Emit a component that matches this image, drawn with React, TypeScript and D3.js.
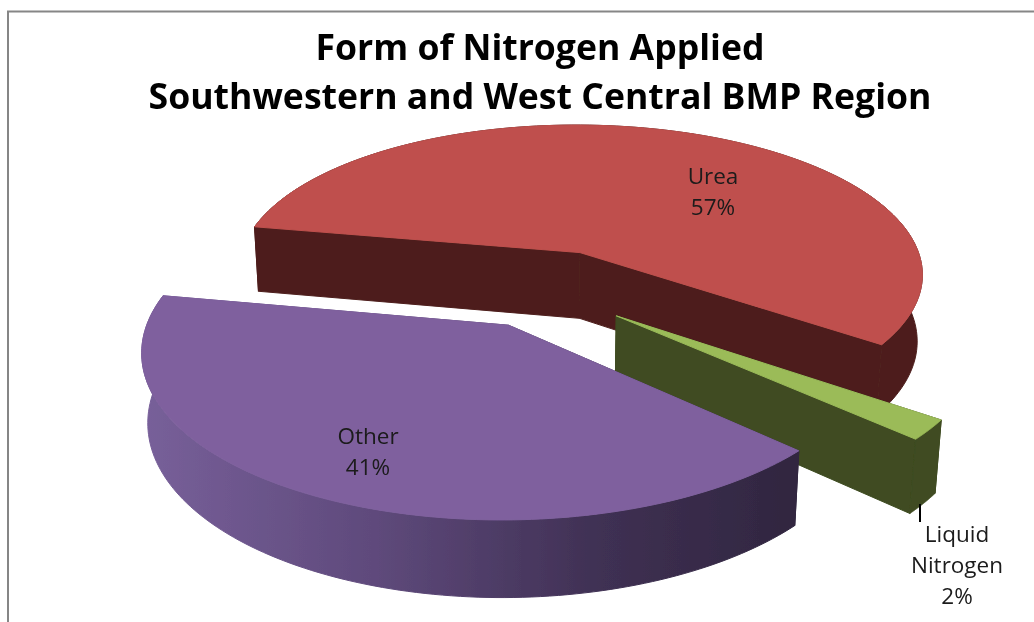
import React from "react";
import * as d3 from "d3";

const categories = ["Urea", "Liquid Nitrogen", "Other"];
const seriesValues = [57, 2, 41];
const explodeX = [0.09, 0.186, -0.113];
const explodeY = [0.236, -0.175, -0.232];
const topColors = ["#BF504D", "#9BBB59", "#7F619E"];
const sideColors = ["#4E1F1D", "#3F4C21", "url(#otherSide)"];
const titleLines = ["Form of Nitrogen Applied", "Southwestern and West Central BMP Region"];
const labelLines = [["Urea", "57%"], ["Liquid", "Nitrogen", "2%"], ["Other", "41%"]];
const labelAnchors: [number, number][] = [[713, 184], [957, 542], [368, 444]];

const W = 1034, H = 622;
const FONT = "'Open Sans', 'Noto Sans', sans-serif";
const START = (-79.5 * Math.PI) / 180;
const DEPTH = 0.21;
const CX = 549.5, CY = 288, F = 2280, D = 6.32, XS = 0.97;
const SIN = 0.43, COS = Math.sqrt(1 - SIN * SIN);

// perspective projection of pie-space (x right, y far, z up)
const project = (x: number, y: number, z: number): [number, number] => {
  const w = D + y * COS - z * SIN;
  return [CX + (XS * F * x) / w, CY - (F * (y * SIN + z * COS)) / w];
};

const pie = d3.pie<number>().sort(null).startAngle(START).endAngle(START + 2 * Math.PI);
const line = d3.line();

export default function App() {
  const slices = pie(seriesValues);
  return (
    <svg width={W} height={H} viewBox={`0 0 ${W} ${H}`} style={{ position: "absolute", left: 0, top: 0, background: "#fff" }}>
      <defs>
        <linearGradient id="otherSide" gradientUnits="userSpaceOnUse" x1={140} x2={800} y1={0} y2={0}>
          <stop offset="0" stopColor="#78609A" />
          <stop offset="0.35" stopColor="#5F4A7C" />
          <stop offset="0.7" stopColor="#3F3053" />
          <stop offset="1" stopColor="#30263F" />
        </linearGradient>
        <filter id="soft" x="0" y="0" width="100%" height="100%" filterUnits="userSpaceOnUse" primitiveUnits="userSpaceOnUse">
          <feGaussianBlur stdDeviation="0.45" />
        </filter>
      </defs>
      <g filter="url(#soft)">
        <rect width={W} height={H} fill="#fff" />
        <path d={`M8 ${H} V11.5 H1034`} fill="none" stroke="#868686" strokeWidth={2} />
        {slices.map((s, i) => {
          const ox = explodeX[i], oy = explodeY[i];
          const angles = d3.range(0, 121).map((k) => s.startAngle + ((s.endAngle - s.startAngle) * k) / 120);
          const rim = (z: number) => angles.map((a) => project(ox + Math.sin(a), oy + Math.cos(a), z));
          const apex = (z: number) => project(ox, oy, z);
          const top = rim(0), bot = rim(-DEPTH);
          const wallA = [apex(0), top[0], bot[0], apex(-DEPTH)];
          const wallB = [apex(0), top[120], bot[120], apex(-DEPTH)];
          const outer = [...top, ...[...bot].reverse()];
          const face = [apex(0), ...top];
          const fill = sideColors[i];
          const edge = { fill, stroke: fill, strokeWidth: 1 };
          return (
            <g key={categories[i]}>
              <path d={line(wallA as any)! + "Z"} {...edge} />
              <path d={line(wallB as any)! + "Z"} {...edge} />
              <path d={line(outer as any)! + "Z"} {...edge} />
              <path d={line(face as any)! + "Z"} fill={topColors[i]} stroke={topColors[i]} strokeWidth={1} />
            </g>
          );
        })}
        <line x1={920} x2={920} y1={504} y2={522} stroke="#000" strokeWidth={2} />
        {titleLines.map((t, i) => (
          <text key={t} x={540} y={60 + i * 49} textAnchor="middle" fontFamily={FONT} fontWeight={700} fontSize={35.6} fill="#000">{t}</text>
        ))}
        {labelLines.map((lines, i) =>
          lines.map((t, j) => (
            <text key={t} x={labelAnchors[i][0]} y={labelAnchors[i][1] + j * 31} textAnchor="middle" fontFamily={FONT} fontSize={22.5} fill="#1a1a1a">{t}</text>
          ))
        )}
      </g>
    </svg>
  );
}
